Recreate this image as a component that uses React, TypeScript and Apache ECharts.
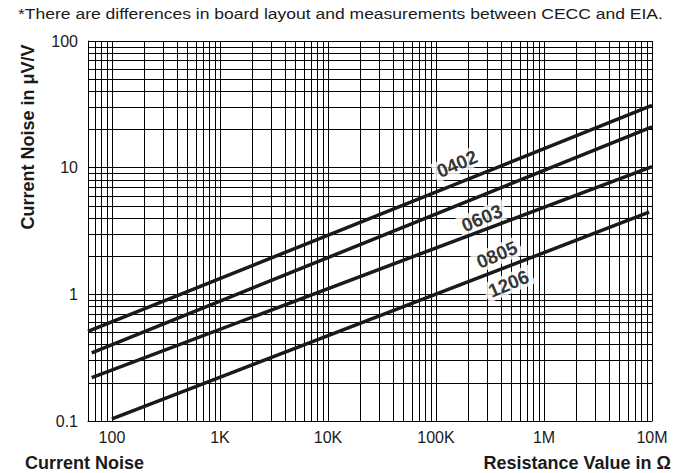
import { useEffect, useRef } from 'react';
import * as echarts from 'echarts';

const noteText = '*There are differences in board layout and measurements between CECC and EIA.';
const yTitle = 'Current Noise in μV/V';
const xTitleLeft = 'Current Noise';
const xTitleRight = 'Resistance Value in Ω';

const xTickValues = [100, 1e3, 1e4, 1e5, 1e6, 1e7];
const xTickLabels = ['100', '1K', '10K', '100K', '1M', '10M'];
const yTickValues = [0.1, 1, 10, 100];
const yTickLabels = ['0.1', '1', '10', '100'];

const seriesNames = ['0402', '0603', '0805', '1206'];
const s0402 = [[60, 0.51], [1e7, 31]];
const s0603 = [[65, 0.345], [1e7, 21]];
const s0805 = [[65, 0.22], [1e7, 10.2]];
const s1206 = [[100, 0.104], [9.4e6, 4.45]];
const seriesData = [s0402, s0603, s0805, s1206];

const labelX = [156700, 266700, 367000, 470000];
const labelY = [10.7, 3.99, 2.05, 1.21];

const xGridExtra = [60, 70, 80, 90];
const xGridDecades = [100, 1e3, 1e4, 1e5, 1e6];
const yGridDecades = [0.1, 1, 10];
const mantissas = [1, 2, 3, 4, 5, 6, 7, 8, 9];

const FONT = '"Liberation Sans", Arial, Helvetica, sans-serif';

function fmt(values: number[], labels: string[]) {
  return (v: number) => {
    for (let i = 0; i < values.length; i++) {
      if (Math.abs(Math.log10(v) - Math.log10(values[i])) < 1e-6) return labels[i];
    }
    return '';
  };
}

export default function App() {
  const ref = useRef<HTMLDivElement>(null);
  useEffect(() => {
    if (!ref.current) return;
    const chart = echarts.init(ref.current, undefined, { renderer: 'svg' });
    const xGrid: number[] = [...xGridExtra];
    xGridDecades.forEach((d) => mantissas.forEach((m) => xGrid.push(m * d)));
    xGrid.push(1e7);
    const yGrid: number[] = [];
    yGridDecades.forEach((d) => mantissas.forEach((m) => yGrid.push(m * d)));
    yGrid.push(100);

    const option: any = {
      animation: false,
      backgroundColor: '#fff',
      grid: { left: 88, right: 30, top: 41, bottom: 52, containLabel: false },
      xAxis: {
        type: 'log',
        logBase: 10,
        min: 60,
        max: 1e7,
        axisLine: { show: true, lineStyle: { color: '#000', width: 1 } },
        axisTick: { show: false },
        splitLine: { show: false },
        axisLabel: {
          customValues: xTickValues,
          formatter: fmt(xTickValues, xTickLabels),
          color: '#1a1a1a',
          fontSize: 16,
          fontFamily: FONT,
          margin: 8,
        },
      },
      yAxis: {
        type: 'log',
        logBase: 10,
        min: 0.1,
        max: 100,
        axisLine: { show: true, lineStyle: { color: '#000', width: 1 } },
        axisTick: { show: false },
        splitLine: { show: false },
        axisLabel: {
          customValues: yTickValues,
          formatter: fmt(yTickValues, yTickLabels),
          color: '#1a1a1a',
          fontSize: 16,
          fontFamily: FONT,
          margin: 10,
        },
      },
      series: [
        {
          type: 'line',
          name: 'grid',
          data: [],
          z: 1,
          silent: true,
          markLine: {
            z: 1,
            silent: true,
            symbol: ['none', 'none'],
            label: { show: false },
            lineStyle: { color: '#000', width: 1, type: 'solid' },
            emphasis: { disabled: true },
            data: [
              ...xGrid.map((v) => ({ xAxis: v })),
              ...yGrid.map((v) => ({ yAxis: v })),
            ],
          },
        },
        {
          type: 'scatter',
          name: 'labels',
          z: 2,
          silent: true,
          symbolSize: 0,
          data: seriesNames.map((n, i) => ({ name: n, value: [labelX[i], labelY[i]] })),
          label: {
            show: true,
            position: 'inside',
            formatter: (p: any) => p.name,
            rotate: 23,
            color: '#000',
            fontSize: 19,
            fontWeight: 'bold',
            fontFamily: FONT,
            backgroundColor: '#fff',
            padding: [1, 4, 0, 4],
          },
          labelLayout: { hideOverlap: false },
        },
        ...seriesNames.map((n, i) => ({
          type: 'line',
          name: n,
          z: 3,
          data: seriesData[i],
          showSymbol: false,
          symbol: 'none',
          lineStyle: { color: '#1a1a1a', width: 3.5, cap: 'butt' },
          silent: true,
        })),
      ],
      graphic: [
        {
          type: 'text',
          x: 18,
          y: 13,
          scaleX: 1.168,
          style: {
            text: noteText,
            font: `15px ${FONT}`,
            fill: '#1a1a1a',
            align: 'left',
            verticalAlign: 'middle',
          },
        },
        {
          type: 'text',
          x: 28,
          y: 137,
          rotation: Math.PI / 2,
          style: {
            text: yTitle,
            font: `bold 18px ${FONT}`,
            fill: '#1a1a1a',
            align: 'center',
            verticalAlign: 'middle',
          },
        },
        {
          type: 'text',
          x: 25,
          y: 463,
          style: {
            text: xTitleLeft,
            font: `bold 18px ${FONT}`,
            fill: '#1a1a1a',
            align: 'left',
            verticalAlign: 'middle',
          },
        },
        {
          type: 'text',
          x: 671,
          y: 463,
          style: {
            text: xTitleRight,
            font: `bold 18px ${FONT}`,
            fill: '#1a1a1a',
            align: 'right',
            verticalAlign: 'middle',
          },
        },
      ],
    };
    chart.setOption(option);
    return () => chart.dispose();
  }, []);
  return (
    <div
      ref={ref}
      style={{ position: 'fixed', left: 0, top: 0, width: 682, height: 473 }}
    />
  );
}
